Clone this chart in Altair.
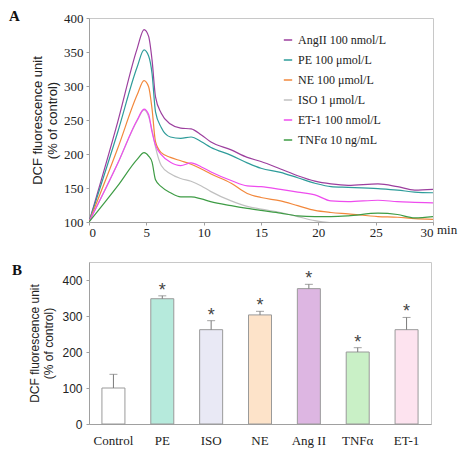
import altair as alt
import pandas as pd

# ---------------- Panel A data ----------------
t = [0, 2.5, 4.2, 4.8, 5.2, 5.5, 5.8, 6.3, 7.1, 8.0, 8.9, 9.8, 10.6, 12.4, 13.8,
     15, 16.7, 18.2, 19.7, 21.1, 22.6, 25.2, 26.9, 28.4, 30]
angii = [100, 247, 355, 383, 373, 338, 284, 260, 244, 238, 237, 228, 218, 206, 195,
         189, 178, 168, 160, 156, 154, 156, 152, 147, 148]
pe = [100, 232, 328, 353, 344, 318, 262, 239, 225, 223, 225, 218, 210, 198, 187,
      179, 173, 165, 157, 152, 151, 149, 147, 144, 143]
ne = [100, 208, 287, 308, 299, 266, 218, 202, 195, 190, 185, 178, 171, 157, 142,
      136, 131, 124, 117, 114, 112, 108, 107, 105, 104]
iso = [100, 186, 249, 265, 255, 235, 210, 183, 171, 164, 160, 153, 145, 131, 123,
       119, 114, 108, 102, 99, 98, 99, 98, 98, 98]
et1 = [100, 186, 250, 266, 258, 232, 213, 199, 188, 183, 187, 181, 174, 161, 153,
       152, 148, 144, 140, 131, 130, 132, 130, 129, 128]
tnf = [100, 153, 192, 202, 197, 188, 162, 152, 143, 137, 137, 134, 130, 124, 120,
       117, 113, 109, 108, 108, 109, 113, 111, 106, 108]

series_names = ["AngII 100 nmol/L", "PE 100 μmol/L", "NE 100 μmol/L",
                "ISO 1 μmol/L", "ET-1 100 nmol/L", "TNFα 10 ng/mL"]
series_values = [angii, pe, ne, iso, et1, tnf]
line_colors = ["#9c3f9e", "#2e9c9a", "#f2883c", "#c0c0c0", "#ee4cee", "#3e9c45"]

x_ticks = [0, 5, 10, 15, 20, 25, 30]
y_ticks_a = [100, 150, 200, 250, 300, 350, 400]

# ---------------- Panel B data ----------------
cats = ["Control", "PE", "ISO", "NE", "Ang II", "TNFα", "ET-1"]
means = [100, 348, 262, 303, 376, 200, 262]
errs = [38, 8, 25, 10, 12, 12, 34]
stars = ["", "*", "*", "*", "*", "*", "*"]
bar_colors = ["#ffffff", "#b6eadc", "#e9e9f5", "#fde3c9", "#ddb6e2", "#c9f0c6", "#fde3ef"]
y_ticks_b = [0, 50, 100, 150, 200, 250, 300, 350, 400]

SERIF = "Liberation Serif"
SANS = "Liberation Sans"

rows = []
for name, vals in zip(series_names, series_values):
    for tt, vv in zip(t, vals):
        rows.append({"t": tt, "v": vv, "s": name})
dfa = pd.DataFrame(rows)

WA, HA = 344, 204
WB, HB = 342, 162

lines = alt.Chart(dfa).mark_line(interpolate="monotone", strokeWidth=1.2, clip=True).encode(
    x=alt.X("t:Q", scale=alt.Scale(domain=[0, 30], nice=False),
            axis=alt.Axis(values=x_ticks, title=None, labelFont=SERIF, labelFontSize=13,
                          tickSize=3, labelPadding=1)),
    y=alt.Y("v:Q", scale=alt.Scale(domain=[100, 400], nice=False),
            axis=alt.Axis(values=y_ticks_a, title=["DCF fluorescence unit", "(% of control)"],
                          titleFont=SANS, titleFontSize=13, titleFontWeight="normal",
                          titlePadding=4, labelFont=SERIF, labelFontSize=13,
                          tickSize=3, labelPadding=3)),
    color=alt.Color("s:N", scale=alt.Scale(domain=series_names, range=line_colors),
                    legend=alt.Legend(orient="none", legendX=193, legendY=16, title=None,
                                      symbolType="stroke", symbolSize=70,
                                      symbolStrokeWidth=1.5, labelFont=SERIF,
                                      labelFontSize=12, labelColor="#222",
                                      rowPadding=8, labelOffset=4, padding=0)),
)

min_text = alt.Chart(pd.DataFrame({"lab": ["min"]})).mark_text(
    align="left", baseline="middle", font=SERIF, fontSize=13, color="#222"
).encode(x=alt.value(348), y=alt.value(HA + 8), text="lab:N")

a_text = alt.Chart(pd.DataFrame({"lab": ["A"]})).mark_text(
    align="left", baseline="middle", font=SERIF, fontSize=15, fontWeight="bold", color="#111"
).encode(x=alt.value(-80), y=alt.value(-2), text="lab:N")

panel_a = alt.layer(lines, min_text, a_text).properties(width=WA, height=HA)

dfb = pd.DataFrame({"cat": cats, "mean": means, "err": errs, "star": stars})

base_b = alt.Chart(dfb).transform_calculate(top="datum.mean + datum.err")
xb = alt.X("cat:N", sort=cats, scale=alt.Scale(paddingInner=0.0, paddingOuter=0.0),
           axis=alt.Axis(title=None, labelAngle=0, ticks=False, labelFont=SERIF,
                         labelFontSize=13, labelPadding=10))
yscale_b = alt.Scale(domain=[0, 450], nice=False)

bars = base_b.mark_bar(stroke="#9a9a9a", strokeWidth=1, size=23).encode(
    x=xb,
    y=alt.Y("mean:Q", scale=yscale_b,
            axis=alt.Axis(values=y_ticks_b, labelExpr="datum.value % 100 == 0 ? datum.label : ''",
                          title=["DCF fluorescence unit", "(% of  control)"],
                          titleFont=SANS, titleFontSize=12, titleFontWeight="normal",
                          titlePadding=6, labelFont=SANS, labelFontSize=12,
                          tickSize=3, labelPadding=4)),
    fill=alt.Fill("cat:N", scale=alt.Scale(domain=cats, range=bar_colors), legend=None),
)
err_rule = base_b.mark_rule(color="#7a7a7a", strokeWidth=1).encode(
    x=alt.X("cat:N", sort=cats), y=alt.Y("mean:Q", scale=yscale_b), y2="top:Q")
cap = base_b.mark_tick(color="#7a7a7a", size=8, thickness=1).encode(
    x=alt.X("cat:N", sort=cats), y=alt.Y("top:Q", scale=yscale_b))
star_txt = base_b.mark_text(font=SANS, fontSize=18, color="#444", baseline="middle", dy=-5).encode(
    x=alt.X("cat:N", sort=cats), y=alt.Y("top:Q", scale=yscale_b), text="star:N")

b_text = alt.Chart(pd.DataFrame({"lab": ["B"]})).mark_text(
    align="left", baseline="middle", font=SERIF, fontSize=15, fontWeight="bold", color="#111"
).encode(x=alt.value(-77), y=alt.value(8), text="lab:N")

panel_b = alt.layer(bars, err_rule, cap, star_txt, b_text).properties(width=WB, height=HB)

chart = alt.vconcat(panel_a, panel_b, spacing=21).properties(padding=0).configure_view(
    stroke="#c8c8c8"
).configure_axis(
    grid=False, domainColor="#a0a0a0", tickColor="#a0a0a0",
    labelColor="#222", titleColor="#222"
)

chart.save("out.html", embed_options={"renderer": "svg", "actions": False})
